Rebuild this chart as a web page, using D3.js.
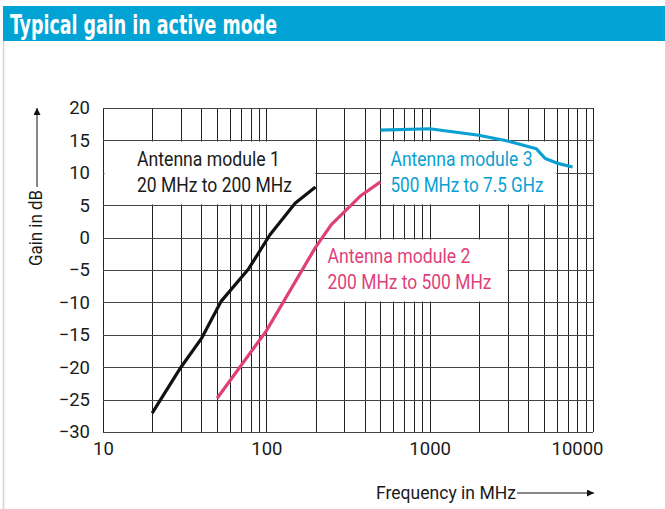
<!DOCTYPE html>
<html lang="en">
<head>
	<meta charset="UTF-8">
	<title>Typical gain in active mode</title>
	<script type="text/javascript" src="https://cdn.jsdelivr.net/npm/d3@7/dist/d3.min.js"></script>
	<style>
		body {
			margin: 0;
			background: #fff;
		}
		svg text {
			font-family: Roboto, "Liberation Sans", sans-serif;
		}
		svg text.title {
			font-family: "DejaVu Sans Condensed", "Liberation Sans Narrow", Roboto, sans-serif;
		}
	</style>
</head>
<body>
<div id="viz"></div>

<script type="text/javascript">
	// values
	var freq1 = [20, 30, 40, 53, 78, 105, 150, 200];
	var gain1 = [-27.1, -20, -15.6, -9.8, -4.8, 0.4, 5.3, 7.8];

	var freq2 = [50, 100, 200, 250, 380, 500];
	var gain2 = [-24.8, -14.4, -1.5, 2, 6.5, 8.6];

	var freq3 = [500, 1000, 2000, 3000, 4500, 5100, 6000, 7500];
	var gain3 = [16.6, 16.8, 15.8, 14.9, 13.7, 12.2, 11.5, 10.9];

	var xTickLabels = [10, 100, 1000, 10000];
	var yTicks = [-30, -25, -20, -15, -10, -5, 0, 5, 10, 15, 20];

	var labels = [
		{lines: ['Antenna module 1', '20 MHz to 200 MHz'], color: '#1a1a1a', box: [10, 200, 15, 5]},
		{lines: ['Antenna module 2', '200 MHz to 500 MHz'], color: '#e03f7a', box: [200, 3000, 0, -10]},
		{lines: ['Antenna module 3', '500 MHz to 7.5 GHz'], color: '#0aa0d2', box: [500, 6000, 15, 5]}
	];

	var W = 665, H = 509;
	var blue = '#00a3d4';

	var svg = d3.select('#viz')
		.append('svg')
		.attr('width', W)
		.attr('height', H);

	// title bar
	svg.append('rect')
		.attr('x', 3).attr('y', 6)
		.attr('width', W - 3).attr('height', 35)
		.attr('fill', blue);
	svg.append('text')
		.attr('class', 'title')
		.attr('x', 10).attr('y', 33.5)
		.attr('fill', '#fff')
		.attr('font-weight', 'bold')
		.attr('font-size', 27)
		.attr('textLength', 267)
		.attr('lengthAdjust', 'spacingAndGlyphs')
		.text('Typical gain in active mode');
	svg.append('line')
		.attr('x1', 3.5).attr('x2', 3.5)
		.attr('y1', 41).attr('y2', H)
		.attr('stroke', '#cfd4da').attr('stroke-width', 1.5);

	var x = d3.scaleLog().domain([10, 10000]).range([103, 593]);
	var y = d3.scaleLinear().domain([-30, 20]).range([432, 108]);

	var grid = svg.append('g').attr('class', 'grid');

	// vertical grid at 1..9 x 10^k
	grid.selectAll('.vline')
		.data(x.ticks())
		.enter().append('line')
		.attr('class', 'vline')
		.attr('x1', function (d) { return Math.round(x(d)) + 0.5; })
		.attr('x2', function (d) { return Math.round(x(d)) + 0.5; })
		.attr('y1', y(20)).attr('y2', y(-30))
		.attr('stroke', '#222').attr('stroke-width', 1);

	grid.selectAll('.hline')
		.data(yTicks)
		.enter().append('line')
		.attr('class', 'hline')
		.attr('x1', x(10)).attr('x2', x(10000))
		.attr('y1', function (d) { return Math.round(y(d)) + 0.5; })
		.attr('y2', function (d) { return Math.round(y(d)) + 0.5; })
		.attr('stroke', '#444').attr('stroke-width', 1.2);

	// white label boxes hide the grid inside
	svg.selectAll('.lbox')
		.data(labels)
		.enter().append('rect')
		.attr('class', 'lbox')
		.attr('x', function (d) { return Math.round(x(d.box[0])) + 1.5; })
		.attr('y', function (d) { return Math.round(y(d.box[2])) + 1.5; })
		.attr('width', function (d) { return Math.round(x(d.box[1])) - Math.round(x(d.box[0])) - 2; })
		.attr('height', function (d) { return Math.round(y(d.box[3])) - Math.round(y(d.box[2])) - 2; })
		.attr('fill', '#fff');

	// axis labels
	var xAxis = d3.axisBottom(x)
		.tickValues(xTickLabels)
		.tickSize(0)
		.tickPadding(10)
		.tickFormat(d3.format('d'));
	var gx = svg.append('g')
		.attr('transform', 'translate(0,' + y(-30) + ')')
		.call(xAxis);
	gx.select('.domain').remove();
	gx.selectAll('text')
		.attr('font-size', 18.5)
		.attr('fill', '#1a1a1a')
		.attr('font-family', null);
	gx.selectAll('.tick').filter(function (d) { return d === 10000; })
		.select('text').attr('text-anchor', 'end').attr('dx', 10);

	var yAxis = d3.axisLeft(y)
		.tickValues(yTicks)
		.tickSize(0)
		.tickPadding(13)
		.tickFormat(d3.format('d'));
	var gy = svg.append('g')
		.attr('transform', 'translate(' + x(10) + ',0)')
		.call(yAxis);
	gy.select('.domain').remove();
	gy.selectAll('text')
		.attr('font-size', 18.5)
		.attr('fill', '#1a1a1a')
		.attr('font-family', null);

	// curves
	var line = d3.line()
		.x(function (d) { return x(d[0]); })
		.y(function (d) { return y(d[1]); });

	var curves = [
		{f: freq1, g: gain1, color: '#111'},
		{f: freq2, g: gain2, color: '#e03f7a'},
		{f: freq3, g: gain3, color: '#0aa0d2'}
	];

	svg.selectAll('.curve')
		.data(curves)
		.enter().append('path')
		.attr('class', 'curve')
		.attr('d', function (c) { return line(d3.zip(c.f, c.g)); })
		.attr('fill', 'none')
		.attr('stroke', function (c) { return c.color; })
		.attr('stroke-width', 3.2)
		.attr('stroke-linejoin', 'round');

	// module labels
	var lineWidths = [[143, 155], [143, 164], [142, 153]];
	labels.forEach(function (d, i) {
		var left = x(d.box[0]) + (i === 0 ? 34 : (i === 1 ? 12 : 10));
		var top = y(d.box[2]);
		d.lines.forEach(function (t, j) {
			svg.append('text')
				.attr('x', left)
				.attr('y', top + 25.5 + j * 26)
				.attr('fill', d.color)
				.attr('font-size', 20.5)
				.attr('textLength', lineWidths[i][j])
				.attr('lengthAdjust', 'spacingAndGlyphs')
				.text(t);
		});
	});

	// axis titles with arrows
	svg.append('defs').append('marker')
		.attr('id', 'arrow')
		.attr('viewBox', '0 0 10 10')
		.attr('refX', 10).attr('refY', 5)
		.attr('markerWidth', 15).attr('markerHeight', 7)
		.attr('markerUnits', 'userSpaceOnUse')
		.attr('orient', 'auto')
		.append('path')
		.attr('d', 'M0,0L10,5L0,10Z')
		.attr('fill', '#111');

	svg.append('text')
		.attr('transform', 'translate(42,266) rotate(-90)')
		.attr('font-size', 17.5)
		.attr('fill', '#1a1a1a')
		.attr('textLength', 76)
		.attr('lengthAdjust', 'spacingAndGlyphs')
		.text('Gain in dB');
	svg.append('line')
		.attr('x1', 37).attr('x2', 37)
		.attr('y1', 187).attr('y2', 108)
		.attr('stroke', '#111').attr('stroke-width', 1)
		.attr('marker-end', 'url(#arrow)');

	svg.append('text')
		.attr('x', 376).attr('y', 499)
		.attr('font-size', 17.5)
		.attr('fill', '#1a1a1a')
		.attr('textLength', 140)
		.attr('lengthAdjust', 'spacingAndGlyphs')
		.text('Frequency in MHz');
	svg.append('line')
		.attr('x1', 517).attr('x2', 594)
		.attr('y1', 493).attr('y2', 493)
		.attr('stroke', '#111').attr('stroke-width', 1)
		.attr('marker-end', 'url(#arrow)');
</script>
</body>
</html>
